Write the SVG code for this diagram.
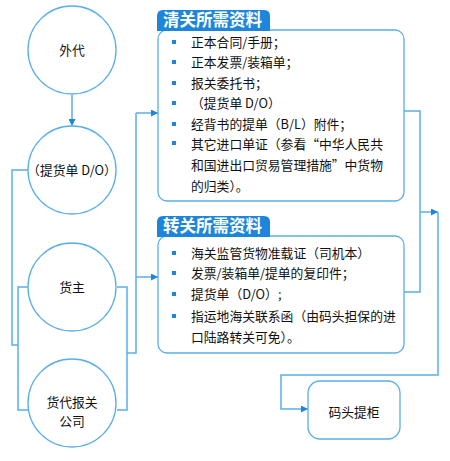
<svg xmlns="http://www.w3.org/2000/svg" width="450" height="461" viewBox="0 0 450 461">
<style>
.node{fill:#fff;stroke:#5aaeea;stroke-width:1.3}
.ln{fill:none;stroke:#5aaeea;stroke-width:1.5}
.t{font-family:"Noto Sans CJK SC","Liberation Sans",sans-serif;font-size:12.8px;fill:#111}
.c{text-anchor:middle}
.tab{fill:#1d86dc}
.tt{font-family:"Noto Sans CJK SC",sans-serif;font-size:16.5px;font-weight:bold;fill:#fff}
.b{fill:#1d86dc}
</style>
<defs>
<marker id="ar" viewBox="0 0 10 10" refX="10" refY="5" markerWidth="8" markerHeight="7" markerUnits="userSpaceOnUse" orient="auto">
<path d="M0,0 L10,5 L0,10 Z" fill="#1d86dc"/>
</marker>
</defs>
<g id="connectors">
<path class="ln" d="M72,95 L72,126" marker-end="url(#ar)"/>
<path class="ln" d="M28,170 L12,170 L12,345 L18,345"/>
<path class="ln" d="M28,287 L18,287 L18,410 L28,410"/>
<path class="ln" d="M117,287 L127,287 L127,410 L117,410"/>
<path class="ln" d="M127,353 L136,353 L136,113"/>
<path class="ln" d="M136,113 L158,113" marker-end="url(#ar)"/>
<path class="ln" d="M136,277 L158,277" marker-end="url(#ar)"/>
<path class="ln" d="M404,111 L420,111 L420,292 L404,292"/>
<path class="ln" d="M420,212 L438,212" marker-end="url(#ar)"/>
<path class="ln" d="M438,212 L438,375 L281,375 L281,409 L308,409" marker-end="url(#ar)"/>
</g>
<g id="waidai"><circle class="node" cx="72" cy="50" r="44"/><text class="t c" x="72" y="55">外代</text></g>
<g id="tihuodan"><circle class="node" cx="72" cy="170" r="44"/><text class="t c" x="72" y="175">（提货单 D/O）</text></g>
<g id="huozhu"><circle class="node" cx="72" cy="287" r="44"/><text class="t c" x="72" y="292">货主</text></g>
<g id="huodai"><circle class="node" cx="72" cy="403" r="44"/><text class="t c" x="72" y="407">货代报关</text><text class="t c" x="72" y="426">公司</text></g>
<g id="qingguan">
<rect class="node" x="158" y="30" width="246" height="171" rx="9"/>
<path class="tab" d="M157,31 L157,16 Q157,10 163,10 L264,10 Q270,10 270,16 L270,31 Z"/>
<text class="tt" x="163" y="26">清关所需资料</text>
<rect class="b" x="172" y="40" width="4" height="4"/><text class="t" x="191" y="47">正本合同/手册；</text>
<rect class="b" x="172" y="60" width="4" height="4"/><text class="t" x="191" y="67">正本发票/装箱单；</text>
<rect class="b" x="172" y="81" width="4" height="4"/><text class="t" x="191" y="88">报关委托书；</text>
<rect class="b" x="172" y="101" width="4" height="4"/><text class="t" x="191" y="108">（提货单 D/O）</text>
<rect class="b" x="172" y="122" width="4" height="4"/><text class="t" x="191" y="129">经背书的提单（B/L）附件；</text>
<rect class="b" x="172" y="141" width="4" height="4"/><text class="t" x="191" y="149">其它进口单证（参看“中华人民共</text>
<text class="t" x="191" y="170">和国进出口贸易管理措施”中货物</text>
<text class="t" x="191" y="191">的归类）。</text>
</g>
<g id="zhuanguan">
<rect class="node" x="158" y="236" width="246" height="117" rx="9"/>
<path class="tab" d="M157,237 L157,222 Q157,216 163,216 L264,216 Q270,216 270,222 L270,237 Z"/>
<text class="tt" x="163" y="232">转关所需资料</text>
<rect class="b" x="172" y="251" width="4" height="4"/><text class="t" x="191" y="258">海关监管货物准载证（司机本）</text>
<rect class="b" x="172" y="271" width="4" height="4"/><text class="t" x="191" y="278">发票/装箱单/提单的复印件；</text>
<rect class="b" x="172" y="292" width="4" height="4"/><text class="t" x="191" y="299">提货单（D/O）;</text>
<rect class="b" x="172" y="314" width="4" height="4"/><text class="t" x="191" y="321">指运地海关联系函（由码头担保的进</text>
<text class="t" x="191" y="342">口陆路转关可免）。</text>
</g>
<g id="matou"><rect class="node" x="308" y="381" width="92" height="58" rx="12"/><text class="t c" x="354" y="417">码头提柜</text></g>
</svg>
